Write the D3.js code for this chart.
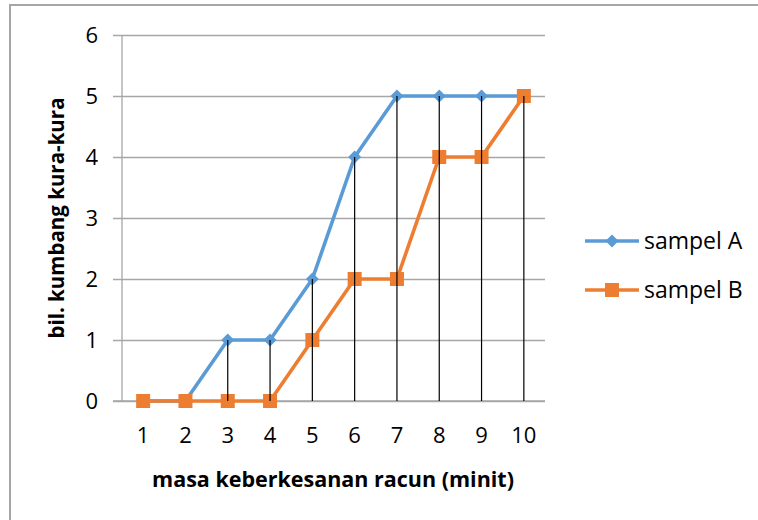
<!DOCTYPE html>
<html>
<head>
<meta charset="utf-8">
<script src="https://cdn.jsdelivr.net/npm/d3@7"></script>
<style>
  html, body { margin: 0; padding: 0; background: #fff; }
  svg { display: block; }
  text { font-family: "Open Sans", Lato, sans-serif; fill: #000; }
</style>
</head>
<body>
<svg id="chart" width="758" height="520"></svg>
<script>
// Minutes of exposure and number of beetles affected, per sample
const minutes = [1, 2, 3, 4, 5, 6, 7, 8, 9, 10];
const sampelA = [0, 0, 1, 1, 2, 4, 5, 5, 5, 5];
const sampelB = [0, 0, 0, 0, 1, 2, 2, 4, 4, 5];
const yTicks = [0, 1, 2, 3, 4, 5, 6];
const seriesNames = ["sampel A", "sampel B"];
const seriesColors = ["#5B9BD5", "#ED7D31"];

const svg = d3.select("#chart");
const plot = { left: 122, right: 545, top: 35, bottom: 401 };

const x = d3.scaleBand().domain(minutes).range([plot.left, plot.right]);
const y = d3.scaleLinear().domain([0, 6]).range([plot.bottom, plot.top]);
const cx = d => x(d) + x.bandwidth() / 2;

// Chart frame
svg.append("rect")
  .attr("x", 10).attr("y", 5)
  .attr("width", 800).attr("height", 600)
  .attr("fill", "none").attr("stroke", "#a6a6a6").attr("stroke-width", 2);

// Horizontal gridlines with small stubs left of the value axis
const yAxis = d3.axisLeft(y).tickValues(yTicks).tickFormat(d3.format("d"))
  .tickSize(-(plot.right - plot.left)).tickPadding(0);
const gy = svg.append("g").attr("transform", `translate(${plot.left},0)`).call(yAxis);
gy.select(".domain").remove();
gy.selectAll(".tick line")
  .attr("x1", -9)
  .attr("stroke", "#a6a6a6").attr("stroke-width", 1.3);
gy.selectAll(".tick text")
  .attr("x", -24).attr("dy", "0.36em")
  .style("font-size", "22px").style("font-family", "'Open Sans', sans-serif");

// Value axis line
svg.append("line")
  .attr("x1", plot.left).attr("x2", plot.left)
  .attr("y1", plot.top).attr("y2", plot.bottom)
  .attr("stroke", "#a6a6a6").attr("stroke-width", 1.3);

// Category axis
const xAxis = d3.axisBottom(x).tickSize(0).tickPadding(0);
const gx = svg.append("g").attr("transform", `translate(0,${plot.bottom})`).call(xAxis);
gx.select(".domain").remove();
gx.selectAll(".tick text")
  .attr("y", 42).attr("dy", 0)
  .style("font-size", "22px").style("font-family", "'Open Sans', sans-serif");
svg.append("line")
  .attr("x1", plot.left - 9).attr("x2", plot.right)
  .attr("y1", plot.bottom).attr("y2", plot.bottom)
  .attr("stroke", "#a6a6a6").attr("stroke-width", 1.3);

// Series lines
const line = d3.line().x((d, i) => cx(minutes[i])).y(d => y(d));
const allSeries = [sampelA, sampelB];
allSeries.forEach((vals, s) => {
  svg.append("path")
    .datum(vals)
    .attr("d", line)
    .attr("fill", "none")
    .attr("stroke", seriesColors[s])
    .attr("stroke-width", 3.6)
    .attr("stroke-linejoin", "round");
});

// Markers: diamonds (rotated squares) for A, squares for B
const diamond = d3.symbol().type(d3.symbolSquare).size(84);
const square = d3.symbol().type(d3.symbolSquare).size(196);
svg.append("g").selectAll("path").data(sampelA).join("path")
  .attr("transform", (d, i) => `translate(${cx(minutes[i])},${y(d)}) rotate(45)`)
  .attr("d", diamond)
  .attr("fill", seriesColors[0]);
svg.append("g").selectAll("path").data(sampelB).join("path")
  .attr("transform", (d, i) => `translate(${cx(minutes[i])},${y(d)})`)
  .attr("d", square)
  .attr("fill", seriesColors[1]);

// Drop lines from the highest value down to the category axis
svg.append("g").selectAll("line").data(minutes).join("line")
  .attr("x1", d => cx(d)).attr("x2", d => cx(d))
  .attr("y1", (d, i) => y(Math.max(sampelA[i], sampelB[i])))
  .attr("y2", plot.bottom)
  .attr("stroke", "#000").attr("stroke-width", 1.2);

// Axis titles
svg.append("text")
  .attr("x", 333).attr("y", 487)
  .attr("text-anchor", "middle")
  .style("font-size", "21.5px").style("font-weight", "bold")
  .text("masa keberkesanan racun (minit)");
svg.append("text")
  .attr("transform", `translate(64,${(plot.top + plot.bottom) / 2}) rotate(-90)`)
  .attr("text-anchor", "middle")
  .style("font-size", "20.5px").style("font-weight", "bold")
  .text("bil. kumbang kura-kura");

// Legend
const legend = svg.append("g");
seriesNames.forEach((name, s) => {
  const ly = 241 + s * 49;
  legend.append("line")
    .attr("x1", 585).attr("x2", 639).attr("y1", ly).attr("y2", ly)
    .attr("stroke", seriesColors[s]).attr("stroke-width", 3.6);
  legend.append("path")
    .attr("transform", `translate(612,${ly})` + (s === 0 ? " rotate(45)" : ""))
    .attr("d", s === 0 ? diamond : square)
    .attr("fill", seriesColors[s]);
  legend.append("text")
    .attr("x", 644).attr("y", ly).attr("dy", "0.36em")
    .style("font-size", "23px")
    .text(name);
});
</script>
</body>
</html>
